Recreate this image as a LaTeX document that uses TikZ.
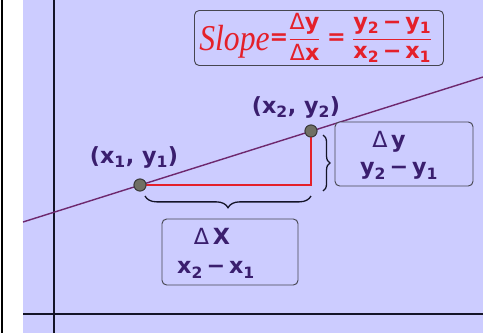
\documentclass[tikz,border=0pt]{standalone}
\usepackage{amsmath}
\usepackage{fontspec}
\setmainfont{DejaVu Sans}
\newfontfamily\slopeserif{Liberation Serif}
\usepackage{tikz}
\usetikzlibrary{calc,decorations.pathreplacing}
\definecolor{slopeLavender}{RGB}{204,204,255}
\definecolor{slopeInk}{RGB}{58,30,110}
\definecolor{slopeRed}{RGB}{228,32,42}
\definecolor{slopeLine}{RGB}{110,40,110}
\definecolor{axisNavy}{RGB}{20,20,40}
\definecolor{boxGray}{RGB}{70,70,80}
\definecolor{dotGray}{RGB}{112,112,100}
\definecolor{dotEdge}{RGB}{60,60,60}
\newcommand{\sbs}[1]{\textsubscript{#1}}
\newcommand{\mns}{\,−\,}
\newcommand{\dlt}{{\mdseries Δ}}

\begin{document}
\begin{tikzpicture}[x=0.03cm,y=-0.03cm,
  axisline/.style={line width=2.4pt, draw=axisNavy},
  labeltext/.style={text=slopeInk, font=\fontsize{19}{21}\selectfont\bfseries, inner sep=0pt},
  valuebox/.style={draw=boxGray, line width=0.8pt, rounded corners=4pt, fill=slopeLavender},
  pointdot/.style={circle, fill=dotGray, draw=dotEdge, line width=0.8pt, minimum size=0.36cm, inner sep=0pt},
  bracestyle/.style={decorate, decoration={brace, amplitude=10pt}, line width=1.1pt, draw=axisNavy}]
\useasboundingbox (0,0) rectangle (483,333);
\fill[white] (0,0) rectangle (483,333);
\fill[slopeLavender] (23,0) rectangle (483,333);
\draw[line width=1.6pt, black] (2,0) -- (2,333);
\draw[axisline] (54,0) -- (54,333);
\draw[axisline] (23,314) -- (483,314);

\node[valuebox, minimum width=7.47cm, minimum height=1.65cm] (formula) at (319,38) {};
\node[text=slopeRed, inner sep=0pt, font=\fontsize{19}{21}\selectfont\bfseries] (formulaText) at (316,38)
  {\raisebox{-0.5ex}{\slopeserif\mdseries\itshape\scalebox{1}[1.15]{\fontsize{27}{29}\selectfont Slope}}=$\genfrac{}{}{1.3pt}{0}{\text{\dlt y}}{\text{\dlt x}}$\;=\;$\genfrac{}{}{1.3pt}{0}{\text{y\sbs2\mns y\sbs1}}{\text{x\sbs2\mns x\sbs1}}$};

\coordinate (lineL) at (23,222);
\coordinate (lineR) at (483,77);
\draw[slopeLine, line width=1.2pt] (lineL) -- (lineR);

\node[pointdot] (p1) at (140,185) {};
\node[pointdot] (p2) at (311,131) {};
\coordinate (corner) at (p2 |- p1);
\draw[slopeRed, line width=2.2pt] (p1.center) -- (corner) -- (p2.center);
\node[pointdot] at (p1) {};
\node[pointdot] at (p2) {};

\node[labeltext] (lblA) at (134,157) {(x\sbs1, y\sbs1)};
\node[labeltext] (lblB) at (296,107) {(x\sbs2, y\sbs2)};

\coordinate (runR) at (311,196);
\coordinate (runL) at (145,196);
\draw[bracestyle] (runR) -- (runL);
\coordinate (riseT) at (323,135);
\coordinate (riseB) at (323,191);
\draw[bracestyle, decoration={amplitude=6pt}] (riseT) -- (riseB);

\node[valuebox, minimum width=4.08cm, minimum height=1.98cm] (runBox) at (230,252) {};
\node[labeltext] (runTop) at (212,236) {\dlt\,X};
\node[labeltext] (runBot) at (216,270) {x\sbs2\mns x\sbs1};

\node[valuebox, minimum width=4.14cm, minimum height=1.92cm] (riseBox) at (404,154) {};
\node[labeltext] (riseTop) at (389,142) {\dlt\,y};
\node[labeltext] (riseBot) at (399,171) {y\sbs2\mns y\sbs1};
\end{tikzpicture}
\end{document}
